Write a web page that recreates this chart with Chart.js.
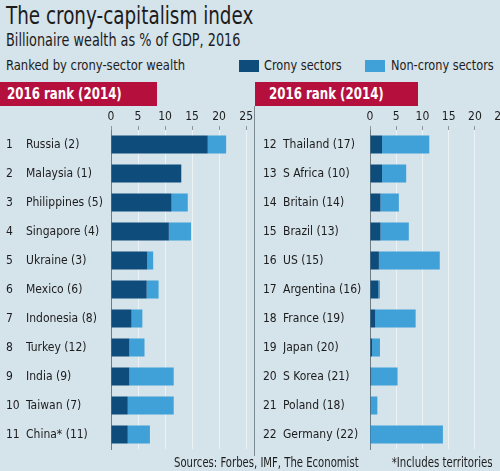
<!DOCTYPE html>
<html>
<head>
<meta charset="utf-8">
<script src="https://cdn.jsdelivr.net/npm/chart.js@4.4.0/dist/chart.umd.min.js"></script>
<style>
  body { margin: 0; width: 500px; height: 471px; overflow: hidden; position: relative;
         background: #d5e3eb; color: #1c1c1c;
         font-family: "DejaVu Sans Condensed", "Liberation Sans Narrow", sans-serif; }
  .abs { position: absolute; white-space: nowrap; transform-origin: left top; }
  #title { left: 6px; top: 2px; font-size: 24px; transform: scaleX(0.85); }
  #sub { left: 6px; top: 30px; font-size: 17px; transform: scaleX(0.84); }
  #ranked { left: 6px; top: 57px; font-size: 14px; transform: scaleX(0.92); }
  .sw { position: absolute; width: 20px; height: 12px; top: 60px; }
  .lg { top: 57px; font-size: 14px; transform: scaleX(0.9); }
  .banner { position: absolute; top: 82px; height: 24px; background: #b5103d; }
  .btxt { position: absolute; top: 82px; color: #fff; font-weight: bold; font-size: 16px; line-height: 24px;
          white-space: nowrap; transform-origin: left top; transform: scaleX(0.82); }
  #divider { position: absolute; left: 254px; top: 106px; width: 1px; height: 350px; background: #7d8a92; }
  .foot { top: 454px; font-size: 14px; transform: scaleX(0.8); }
  #incl { left: auto; right: 7px; transform-origin: right top; transform: scaleX(0.81); }
  canvas { position: absolute; }
</style>
</head>
<body>
<div class="abs" id="title">The crony-capitalism index</div>
<div class="abs" id="sub">Billionaire wealth as % of GDP, 2016</div>
<div class="abs" id="ranked">Ranked by crony-sector wealth</div>
<div class="sw" style="left:239px;background:#0e4d7b"></div>
<div class="abs lg" style="left:264px">Crony sectors</div>
<div class="sw" style="left:365px;background:#3fa1d8"></div>
<div class="abs lg" style="left:391px">Non-crony sectors</div>
<div class="banner" style="left:0;width:157px"></div>
<div class="banner" style="left:255px;width:163px"></div>
<div class="btxt" style="left:7px">2016 rank (2014)</div>
<div class="btxt" style="left:269px">2016 rank (2014)</div>
<div id="divider"></div>
<div style="position:absolute;left:0;top:108px;width:255px;height:363px"><canvas id="leftChart"></canvas></div>
<div style="position:absolute;left:255px;top:108px;width:255px;height:363px"><canvas id="rightChart"></canvas></div>
<div class="abs foot" style="left:174px">Sources: Forbes, IMF, The Economist</div>
<div class="abs foot" id="incl">*Includes territories</div>

<script>
// values, % of GDP
const leftRanks = ["1", "2", "3", "4", "5", "6", "7", "8", "9", "10", "11"];
const leftCountries = ["Russia (2)", "Malaysia (1)", "Philippines (5)", "Singapore (4)", "Ukraine (3)",
    "Mexico (6)", "Indonesia (8)", "Turkey (12)", "India (9)", "Taiwan (7)", "China* (11)"];
const leftCrony = [17.9, 13.0, 11.2, 10.7, 6.7, 6.6, 3.8, 3.4, 3.4, 3.1, 3.1];
const leftNonCrony = [3.4, 0, 3.0, 4.1, 1.1, 2.2, 2.0, 2.8, 8.2, 8.5, 4.1];

const rightRanks = ["12", "13", "14", "15", "16", "17", "18", "19", "20", "21", "22"];
const rightCountries = ["Thailand (17)", "S Africa (10)", "Britain (14)", "Brazil (13)", "US (15)",
    "Argentina (16)", "France (19)", "Japan (20)", "S Korea (21)", "Poland (18)", "Germany (22)"];
const rightCrony = [2.3, 2.3, 2.0, 2.0, 1.7, 1.6, 1.0, 0.4, 0.25, 0.15, 0.05];
const rightNonCrony = [9.0, 4.6, 3.5, 5.4, 11.6, 0.3, 7.7, 1.5, 5.0, 1.25, 13.85];

const xTicks = [0, 5, 10, 15, 20, 25];

const CRONY = "#0e4d7b";
const NONCRONY = "#3fa1d8";
const FONT = "'DejaVu Sans Condensed', 'Liberation Sans Narrow', sans-serif";

Chart.defaults.font.family = FONT;
Chart.defaults.color = "#1c1c1c";

function makePanel(canvasId, ranks, countries, crony, nonCrony, opts) {
    const canvas = document.getElementById(canvasId);
    return new Chart(canvas, {
        type: "bar",
        data: {
            labels: countries,
            datasets: [
                { label: "Crony sectors", data: crony, backgroundColor: CRONY },
                { label: "Non-crony sectors", data: nonCrony, backgroundColor: NONCRONY }
            ]
        },
        options: {
            indexAxis: "y",
            responsive: true,
            maintainAspectRatio: false,
            animation: false,
            datasets: { bar: { barPercentage: 0.625, categoryPercentage: 1, borderWidth: 0 } },
            layout: { padding: { left: opts.padLeft, right: opts.padRight, top: 0, bottom: 22 } },
            plugins: { legend: { display: false }, tooltip: { enabled: false } },
            scales: {
                x: {
                    position: "top",
                    stacked: true,
                    min: 0,
                    max: 25,
                    afterBuildTicks: s => { s.ticks = xTicks.map(v => ({ value: v })); },
                    afterFit: s => { s.height = 22; },
                    grid: { color: "rgba(255,255,255,0.55)", tickColor: "#8a969d", tickLength: 4 },
                    border: { display: false },
                    ticks: { padding: 2, font: { size: 12 }, color: "#1c1c1c", maxRotation: 0 }
                },
                y: {
                    stacked: true,
                    position: "left",
                    weight: 1,
                    afterFit: s => { s.width = opts.nameWidth; },
                    grid: { display: false },
                    border: { display: true, color: "#6f7c84", width: 1 },
                    ticks: { crossAlign: "far", font: { size: 12 }, color: "#1c1c1c", autoSkip: false }
                },
                rank: {
                    type: "category",
                    labels: ranks,
                    position: "left",
                    axis: "y",
                    offset: true,
                    weight: 2,
                    afterFit: s => { s.width = opts.rankWidth; },
                    grid: { display: false },
                    border: { display: false },
                    ticks: { crossAlign: "far", font: { size: 12 }, color: "#1c1c1c", autoSkip: false }
                }
            }
        }
    });
}

makePanel("leftChart", leftRanks, leftCountries, leftCrony, leftNonCrony,
    { padLeft: 6, padRight: 8, rankWidth: 20, nameWidth: 85 });
makePanel("rightChart", rightRanks, rightCountries, rightCrony, rightNonCrony,
    { padLeft: 8, padRight: 7, rankWidth: 20, nameWidth: 87 });
</script>
</body>
</html>
